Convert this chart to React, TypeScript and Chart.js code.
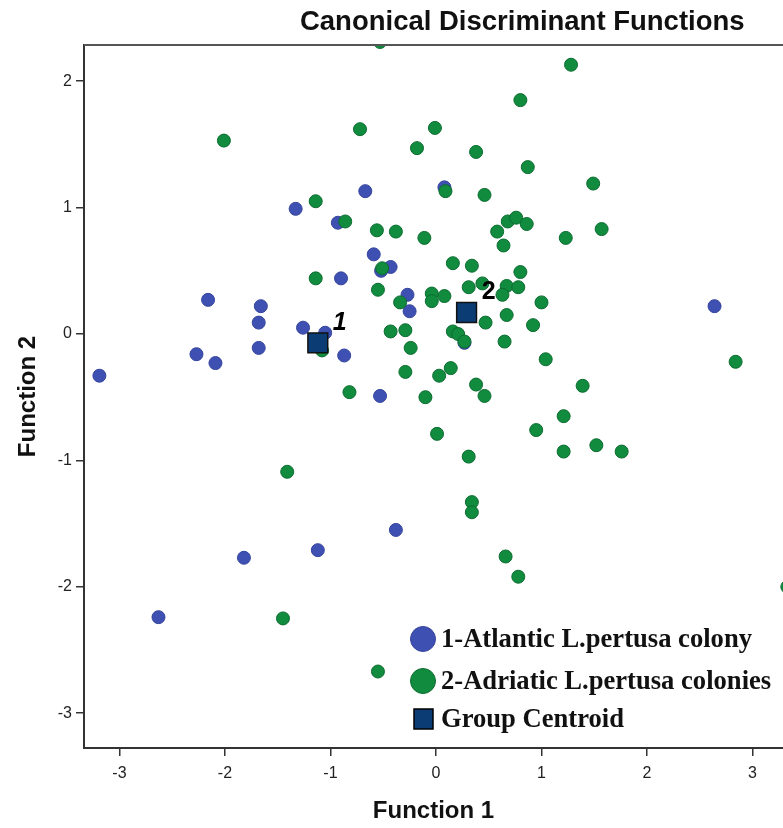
import React, { useEffect, useRef } from "react";
import { Chart, registerables } from "chart.js";

Chart.register(...registerables);

// Group 1 - Atlantic L.pertusa colony (Function 1, Function 2)
const atlanticX = [-3.19, -2.63, -1.82, -1.12, -0.38, -2.27, -2.09, -2.16, -1.66, -1.68, -1.68, -1.26, -1.05, -0.87, -1.33, -0.93, -0.67, -0.90, -0.59, -0.43, -0.52, -0.27, -0.25, -0.53, 0.08, 0.27, 2.64];
const atlanticY = [-0.33, -2.24, -1.77, -1.71, -1.55, -0.16, -0.23, 0.27, 0.22, 0.09, -0.11, 0.05, 0.01, -0.17, 0.99, 0.88, 1.13, 0.44, 0.63, 0.53, 0.50, 0.31, 0.18, -0.49, 1.16, -0.07, 0.22];

// Group 2 - Adriatic L.pertusa colonies
const adriaticX = [-0.53, 1.28, 0.80, -2.01, -0.72, -0.01, -0.18, 0.38, 0.87, 1.49, 0.09, 0.46, -1.14,
  -0.86, -0.56, -0.38, -0.11, 0.58, 0.68, 0.76, 0.86, 1.23, 1.57, 0.64,
  0.16, 0.34, 0.80, -0.51, -1.14, -0.55, 0.31, 0.44, 0.67, 0.78, 0.63, 0.08, -0.04, -0.04, -0.34, 1.00,
  0.67, 0.47, 0.92, 0.16, 0.21, 0.27, 0.65, -0.43, -0.29, -0.24, -1.08,
  1.04, 0.14, 0.03, -0.29, 0.38, 0.46, -0.10, -0.82, 1.39, 2.84,
  1.21, 0.95, 0.01, 1.21, 1.52, 1.76, 0.31,
  -1.41, 0.34, 0.34, 0.66, 0.78, -1.45, -0.55, 3.33];
const adriaticY = [2.31, 2.13, 1.85, 1.53, 1.62, 1.63, 1.47, 1.44, 1.32, 1.19, 1.13, 1.10, 1.05,
  0.89, 0.82, 0.81, 0.76, 0.81, 0.89, 0.92, 0.87, 0.76, 0.83, 0.70,
  0.56, 0.54, 0.49, 0.52, 0.44, 0.35, 0.37, 0.40, 0.38, 0.37, 0.31, 0.30, 0.32, 0.26, 0.25, 0.25,
  0.15, 0.09, 0.07, 0.02, 0.00, -0.06, -0.06, 0.02, 0.03, -0.11, -0.13,
  -0.20, -0.27, -0.33, -0.30, -0.40, -0.49, -0.50, -0.46, -0.41, -0.22,
  -0.65, -0.76, -0.79, -0.93, -0.88, -0.93, -0.97,
  -1.09, -1.33, -1.41, -1.76, -1.92, -2.25, -2.67, -2.00];

// Group centroids
const centroidLabels = ["1", "2"];
const centroidX = [-1.12, 0.29];
const centroidY = [-0.07, 0.17];

const xTicksRange = [-3.336, 3.289];
const yTicksRange = [-3.275, 2.286];

const legendLabels = ["1-Atlantic L.pertusa colony", "2-Adriatic L.pertusa colonies", "Group Centroid"];
const titleText = "Canonical Discriminant Functions";
const xTitle = "Function 1";
const yTitle = "Function 2";

const BLUE = "#3F50B3";
const BLUE_BORDER = "#34449c";
const GREEN = "#118B3E";
const GREEN_BORDER = "#0b6c30";
const NAVY = "#0B3D74";

const zip = (xs: number[], ys: number[]) => xs.map((x, i) => ({ x, y: ys[i] }));

export default function App() {
  const ref = useRef<HTMLCanvasElement | null>(null);

  useEffect(() => {
    if (!ref.current) return;

    const overlay = {
      id: "overlay",
      afterDraw(chart: any) {
        const { ctx, chartArea } = chart;
        const xs = chart.scales.x;
        const ys = chart.scales.y;
        ctx.save();
        // top frame line
        ctx.strokeStyle = "#555";
        ctx.lineWidth = 2;
        ctx.beginPath();
        ctx.moveTo(chartArea.left, chartArea.top);
        ctx.lineTo(chartArea.right, chartArea.top);
        ctx.stroke();

        // title
        ctx.fillStyle = "#111";
        ctx.font = "bold 27.5px 'Liberation Sans', Arial, sans-serif";
        ctx.textAlign = "center";
        ctx.textBaseline = "middle";
        ctx.fillText(titleText, chartArea.left + (chartArea.right - chartArea.left) * 0.627, 22);

        // centroid labels
        ctx.fillStyle = "#000";
        centroidLabels.forEach((lab, i) => {
          const px = xs.getPixelForValue(centroidX[i]);
          const py = ys.getPixelForValue(centroidY[i]);
          ctx.font = (i === 0 ? "italic " : "") + "bold 25px 'Liberation Sans', Arial, sans-serif";
          ctx.fillText(lab, px + 22, py - 20);
        });

        // legend
        const mx = chartArea.right - 360;
        const rows = [chartArea.bottom - 109, chartArea.bottom - 67, chartArea.bottom - 29];
        const fills = [BLUE, GREEN, NAVY];
        const borders = [BLUE_BORDER, GREEN_BORDER, "#000"];
        rows.forEach((ry, i) => {
          ctx.fillStyle = fills[i];
          ctx.strokeStyle = borders[i];
          ctx.lineWidth = 1;
          ctx.beginPath();
          if (i < 2) {
            ctx.arc(mx, ry, 12.5, 0, Math.PI * 2);
            ctx.fill();
            ctx.stroke();
          } else {
            ctx.lineWidth = 1.5;
            ctx.rect(mx - 9, ry - 10, 19, 20);
            ctx.fill();
            ctx.stroke();
          }
          ctx.fillStyle = "#111";
          ctx.font = "bold 26.6px 'Liberation Serif', 'Times New Roman', serif";
          ctx.textAlign = "left";
          ctx.textBaseline = "middle";
          ctx.fillText(legendLabels[i], mx + 18, ry + 1);
        });
        ctx.restore();
      },
    };

    const chart = new Chart(ref.current, {
      type: "scatter",
      data: {
        datasets: [
          {
            label: "Group Centroid",
            data: zip(centroidX, centroidY),
            pointStyle: "rect",
            pointRadius: 14,
            pointHoverRadius: 14,
            backgroundColor: NAVY,
            borderColor: "#111",
            borderWidth: 1.5,
            clip: 0,
          },
          {
            label: legendLabels[1],
            data: zip(adriaticX, adriaticY),
            pointRadius: 6.5,
            pointHoverRadius: 6.5,
            backgroundColor: GREEN,
            borderColor: GREEN_BORDER,
            borderWidth: 1,
            clip: 0,
          },
          {
            label: legendLabels[0],
            data: zip(atlanticX, atlanticY),
            pointRadius: 6.5,
            pointHoverRadius: 6.5,
            backgroundColor: BLUE,
            borderColor: BLUE_BORDER,
            borderWidth: 1,
            clip: 0,
          },
        ],
      },
      options: {
        responsive: false,
        animation: false,
        devicePixelRatio: 1,
        layout: { autoPadding: false, padding: { top: 45, left: 0, right: 0, bottom: 0 } },
        plugins: {
          legend: { display: false },
          title: { display: false },
          tooltip: { enabled: false },
        },
        scales: {
          x: {
            type: "linear",
            min: xTicksRange[0],
            max: xTicksRange[1],
            afterFit: (s: any) => {
              s.height = 80;
            },
            ticks: {
              stepSize: 1,
              includeBounds: false,
              padding: 8,
              color: "#222",
              font: { family: "'Liberation Sans', Arial, sans-serif", size: 16 },
            },
            grid: { drawOnChartArea: false, drawTicks: true, tickLength: 8, color: "#333", lineWidth: 1.5 },
            border: { display: true, color: "#333", width: 2 },
            title: {
              display: true,
              text: xTitle,
              color: "#111",
              padding: { top: 0, bottom: 2 },
              font: { family: "'Liberation Sans', Arial, sans-serif", size: 24, weight: "bold" },
            },
          },
          y: {
            type: "linear",
            min: yTicksRange[0],
            max: yTicksRange[1],
            afterFit: (s: any) => {
              s.width = 84;
            },
            ticks: {
              stepSize: 1,
              includeBounds: false,
              padding: 4,
              color: "#222",
              font: { family: "'Liberation Sans', Arial, sans-serif", size: 16 },
            },
            grid: { drawOnChartArea: false, drawTicks: true, tickLength: 8, color: "#333", lineWidth: 1.5 },
            border: { display: true, color: "#333", width: 2 },
            title: {
              display: true,
              text: yTitle,
              color: "#111",
              padding: { top: 14, bottom: 0 },
              font: { family: "'Liberation Sans', Arial, sans-serif", size: 24, weight: "bold" },
            },
          },
        },
      },
      plugins: [overlay],
    } as any);

    return () => chart.destroy();
  }, []);

  return (
    <div style={{ position: "absolute", left: 0, top: 0, width: 783, height: 828, background: "#fff" }}>
      <canvas ref={ref} width={783} height={828} />
    </div>
  );
}
